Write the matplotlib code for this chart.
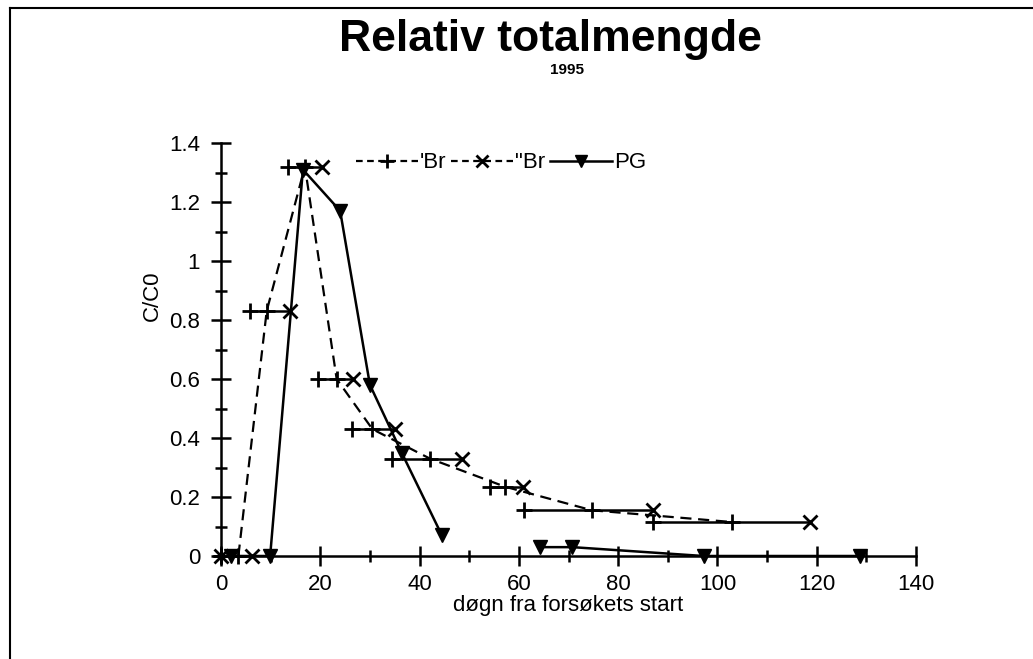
import matplotlib
matplotlib.use("Agg")
from matplotlib import pyplot as plt
from matplotlib.lines import Line2D
from matplotlib.ticker import MultipleLocator

plt.rcParams['font.family'] = ['Liberation Sans', 'DejaVu Sans']

# sampling intervals (days) and relative amount over each interval
interval_start = [0, 5.8, 13.5, 19.6, 26.3, 34.4, 54.2, 61.0, 87.1]
interval_end = [6.2, 13.9, 20.3, 26.6, 35.0, 48.5, 60.8, 87.1, 118.7]
interval_value = [0, 0.83, 1.32, 0.60, 0.43, 0.33, 0.235, 0.155, 0.115]

# 'Br plotted at the middle of each interval
br1_days = [0, 3.5, 9.2, 16.9, 23.3, 30.5, 42.1, 57.2, 74.7, 103.0]
br1_value = [0, 0, 0.83, 1.32, 0.60, 0.43, 0.33, 0.235, 0.155, 0.115]

# "Br plotted at the end of each interval
br2_days = [0, 6.2, 13.9, 20.3, 26.6, 35.0, 48.5, 60.8, 87.1, 118.7]
br2_value = [0, 0, 0.83, 1.32, 0.60, 0.43, 0.33, 0.235, 0.155, 0.115]

# PG, gap between the two sampling periods
pg_days = [2.1, 9.9, 16.5, 24.0, 30.0, 36.4, 44.5, None, 64.3, 70.8, 97.2, 128.7]
pg_value = [0, 0, 1.31, 1.17, 0.58, 0.35, 0.07, None, 0.03, 0.03, 0, 0]

fig = plt.figure(figsize=(10.33, 6.59), dpi=100)
W, H = 1033, 659
ax = fig.add_axes([221 / W, 1 - 556 / H, (916 - 221) / W, (556 - 143) / H])

# horizontal interval lines with a + at the start
ax.hlines(interval_value, interval_start, interval_end, colors='k', lw=1.8, clip_on=False)
ax.plot(interval_start, interval_value, ls='none', marker='+', ms=11, mew=2, color='k', clip_on=False)

ax.plot(br1_days, br1_value, ls=(0, (5, 3)), lw=1.6, marker='+', ms=11, mew=2,
        color='k', clip_on=False)
ax.plot(br2_days, br2_value, ls='none', marker='x', ms=10, mew=2, color='k', clip_on=False)

pg_x = [float('nan') if d is None else d for d in pg_days]
pg_y = [float('nan') if v is None else v for v in pg_value]
ax.plot(pg_x, pg_y, ls='-', lw=1.8, marker='v', ms=10, color='k', clip_on=False)

ax.set_xlim(0, 140)
ax.set_ylim(0, 1.4)
for side in ['top', 'right']:
    ax.spines[side].set_visible(False)
for side in ['left', 'bottom']:
    ax.spines[side].set_linewidth(1.8)

ax.xaxis.set_major_locator(MultipleLocator(20))
ax.xaxis.set_minor_locator(MultipleLocator(10))
ax.yaxis.set_major_locator(MultipleLocator(0.2))
ax.yaxis.set_minor_locator(MultipleLocator(0.1))
ax.tick_params(which='major', direction='inout', length=14, width=1.8, labelsize=16)
ax.tick_params(which='minor', direction='inout', length=8, width=1.8)
ax.tick_params(axis='y', which='major', pad=8)
ax.tick_params(axis='x', which='major', pad=6)
ax.set_yticks([0, 0.2, 0.4, 0.6, 0.8, 1.0, 1.2, 1.4])
ax.set_yticklabels(['0', '0.2', '0.4', '0.6', '0.8', '1', '1.2', '1.4'])

ax.set_xlabel('døgn fra forsøkets start', fontsize=16, labelpad=0)
ax.set_ylabel('C/C0', fontsize=16)
ax.yaxis.set_label_coords(-0.084, 0.63)

fig.text(550 / W, 1 - 40 / H, 'Relativ totalmengde', ha='center', va='center',
         fontsize=32, fontweight='bold')
fig.text(567 / W, 1 - 70 / H, '1995', ha='center', va='center', fontsize=11, fontweight='bold')

handles = [
    Line2D([], [], ls=(0, (3, 2)), lw=1.6, marker='+', ms=10, mew=2, color='k'),
    Line2D([], [], ls=(0, (3, 2)), lw=1.6, marker='x', ms=9, mew=2, color='k'),
    Line2D([], [], ls='-', lw=1.8, marker='v', ms=9, color='k'),
]
fig.legend(handles, ["'Br", '"Br', 'PG'], loc='center', bbox_to_anchor=(501 / W, 1 - 163 / H),
           ncol=3, frameon=False, fontsize=16, handlelength=2.8, handletextpad=0.1,
           columnspacing=0.2, borderaxespad=0)

# page frame
fig.add_artist(Line2D([10 / W, 10 / W], [0, 1 - 8 / H], transform=fig.transFigure, color='k', lw=1.5))
fig.add_artist(Line2D([10 / W, 1], [1 - 8 / H, 1 - 8 / H], transform=fig.transFigure, color='k', lw=1.5))

fig.savefig('out.png', dpi=100)
